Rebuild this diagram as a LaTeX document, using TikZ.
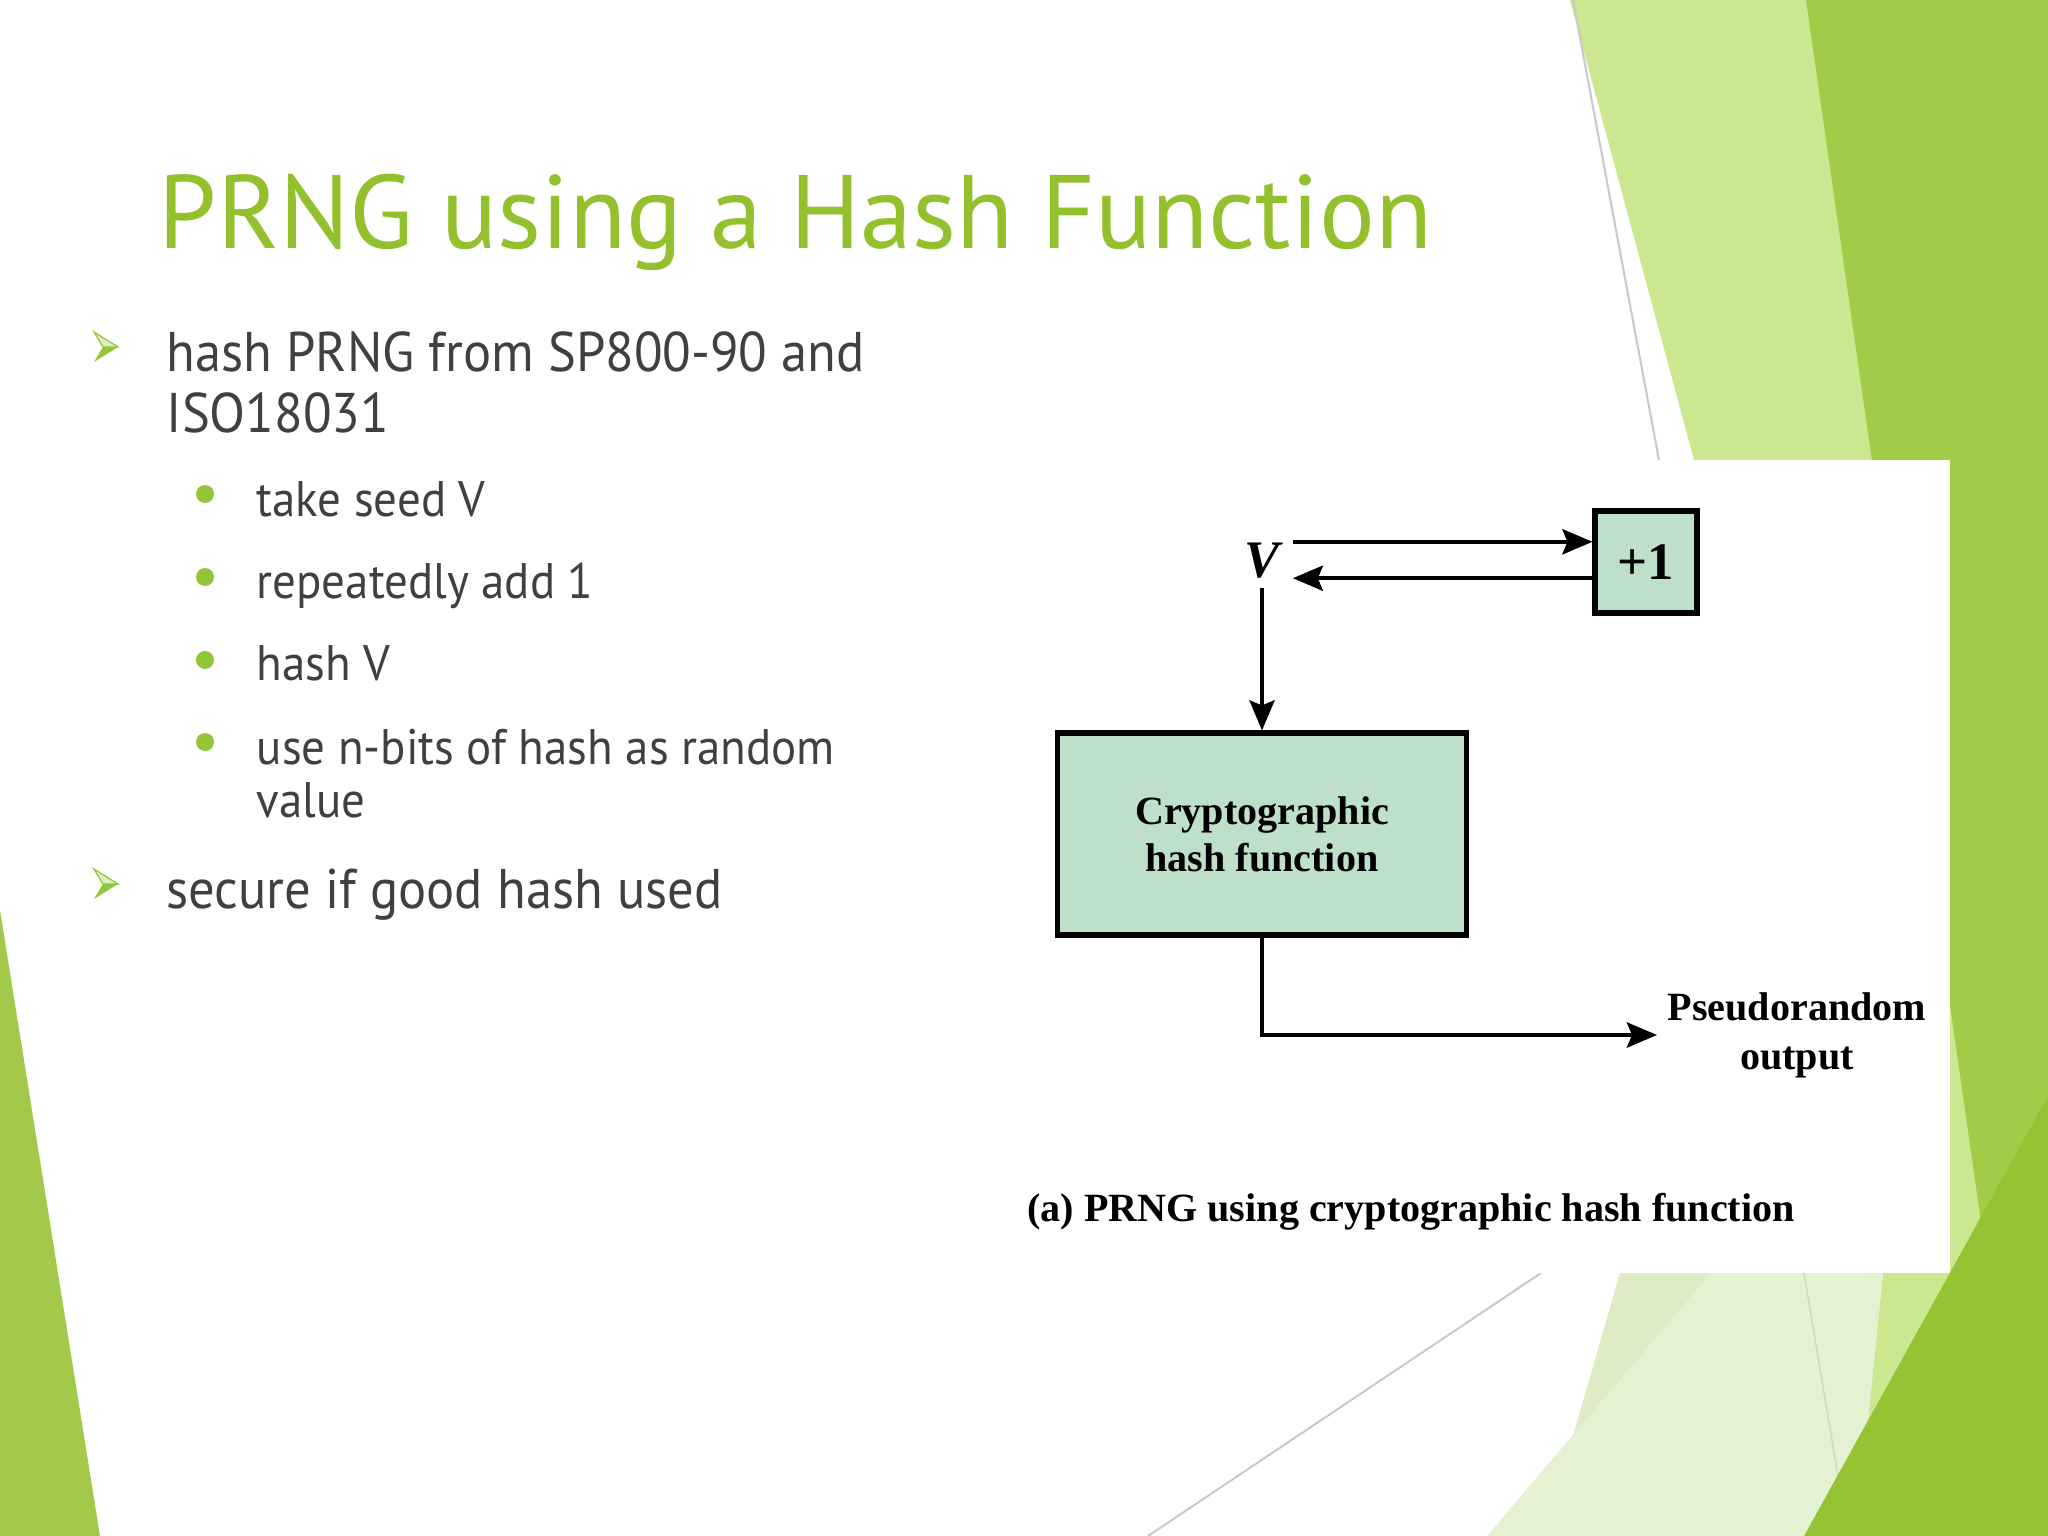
\documentclass[tikz,border=0pt]{standalone}
\usepackage{fontspec}
\setmainfont{PT Sans}[FakeStretch=0.94]
\newfontfamily\titlefont{PT Sans}
\newfontfamily\figfont{Liberation Serif}
\usetikzlibrary{positioning,arrows.meta}

\definecolor{titlegreen}{RGB}{146,193,45}
\definecolor{bulletgreen}{RGB}{146,197,55}
\definecolor{bodygray}{RGB}{64,64,64}
\definecolor{leafdark}{RGB}{162,203,72}
\definecolor{leafdeep}{RGB}{149,195,52}
\definecolor{leaflight}{RGB}{203,232,145}
\definecolor{leafpale}{RGB}{221,236,197}
\definecolor{leafpaler}{RGB}{229,242,210}
\definecolor{leafleft}{RGB}{163,201,74}
\definecolor{edgegray}{RGB}{200,200,206}
\definecolor{boxgreen}{RGB}{191,224,200}

\begin{document}
\begin{tikzpicture}[
    x=0.01cm, y=-0.01cm,
    slidetitle/.style={
        anchor=base west,
        inner sep=0pt,
        text=titlegreen,
        font=\titlefont\fontsize{29.7}{35}\selectfont
    },
    mainitem/.style={
        anchor=base west,
        inner sep=0pt,
        text=bodygray,
        font=\fontsize{15.9}{19}\selectfont
    },
    subitem/.style={
        anchor=base west,
        inner sep=0pt,
        text=bodygray,
        font=\fontsize{14.2}{17}\selectfont
    },
    dotbullet/.style={
        circle,
        fill=bulletgreen,
        inner sep=0pt,
        minimum size=0.18cm
    },
    arrowbullet/.pic={
        \fill[white!70!bulletgreen, draw=bulletgreen, line width=0.012cm] (-12,-15) -- (12,0) -- (-3,0) -- cycle;
        \fill[bulletgreen] (-3,0) -- (12,0) -- (-12,15) -- cycle;
    },
    hashbox/.style={
        draw=black,
        fill=boxgreen,
        line width=0.055cm,
        align=center,
        minimum width=4.085cm,
        minimum height=2.015cm,
        font=\figfont\bfseries\fontsize{11.4}{13.4}\selectfont
    },
    incbox/.style={
        draw=black,
        fill=boxgreen,
        line width=0.055cm,
        minimum size=1.015cm,
        inner sep=0pt,
        font=\figfont\bfseries\fontsize{15}{18}\selectfont
    },
    seedlabel/.style={
        inner xsep=0.125cm,
        inner ysep=0pt,
        text height=0.35cm,
        text depth=0cm,
        font=\figfont\bfseries\itshape\fontsize{15}{18}\selectfont
    },
    figlabel/.style={
        align=center,
        inner xsep=0.1cm,
        font=\figfont\bfseries\fontsize{11.4}{13.9}\selectfont
    },
    arrow/.style={-{Stealth[length=0.3cm, width=0.25cm, inset=0.05cm]}, line width=0.045cm, draw=black}
]
\useasboundingbox (0,0) rectangle (2048,1536);
\fill[white] (0,0) rectangle (2048,1536);

% slide decoration
\fill[leaflight] (1570,0) -- (1694,460) -- (1694,1273) -- (1883,1273) -- (1856,1536) -- (2048,1536) -- (2048,0) -- cycle;
\draw[edgegray, line width=0.02cm] (1573,0) -- (1659,460);
\fill[leafpale] (1620,1273) -- (1883,1273) -- (1856,1536) -- (1544,1536) -- cycle;
\fill[leafpaler] (1711,1273) -- (1883,1273) -- (1856,1536) -- (1487,1536) -- cycle;
\draw[leafpale!85!gray, line width=0.015cm] (1804,1273) -- (1848,1536);
\fill[leafdark] (1806,0) -- (2048,0) -- (2048,1536) -- (2026,1536) -- cycle;
\fill[leafdeep] (2048,1096) -- (2048,1536) -- (1804,1536) -- cycle;
\fill[leafleft] (0,910) -- (100,1536) -- (0,1536) -- cycle;
\draw[edgegray, line width=0.02cm] (1541,1273) -- (1148,1536);
\fill[white] (1000,460) rectangle (1950,1273);

% title and bullets
\node[slidetitle] (title) at (158,248) {PRNG using a Hash Function};

\pic (arrowA) at (106,347) {arrowbullet};
\node[mainitem] (item1) at (166,371) {hash PRNG from SP800-90 and};
\node[mainitem] (item1b) at (166,432) {ISO18031};

\node[dotbullet] (dot1) at (205,494) {};
\node[subitem] (sub1) at (256,516) {take seed V};
\node[dotbullet] (dot2) at (205,577) {};
\node[subitem] (sub2) at (256,598) {repeatedly add 1};
\node[dotbullet] (dot3) at (205,660) {};
\node[subitem] (sub3) at (256,680) {hash V};
\node[dotbullet] (dot4) at (205,742) {};
\node[subitem] (sub4) at (256,764) {use n-bits of hash as random};
\node[subitem] (sub4b) at (256,817) {value};

\pic (arrowB) at (106,884) {arrowbullet};
\node[mainitem] (item2) at (166,908) {secure if good hash used};

% diagram
\node[hashbox] (hash) at (1262,834) {Cryptographic\\hash function};
\node[incbox] (inc) at (1646,562) {+1};
\node[seedlabel] (seed) at (1262,560) {V};
\node[figlabel, anchor=west] (out) at (1657,1035) {Pseudorandom\\output};
\node[figlabel] (cap) at (1411,1212) {(a) PRNG using cryptographic hash function};

\draw[arrow] (seed.north east) -- (seed.north east -| inc.west);
\draw[arrow] (inc.west |- seed.south east) -- (seed.south east);
\draw[arrow] ([yshift=-0.1cm]seed.south) -- (hash.north);
\draw[arrow] (hash.south) |- (out.west);

\end{tikzpicture}
\end{document}
